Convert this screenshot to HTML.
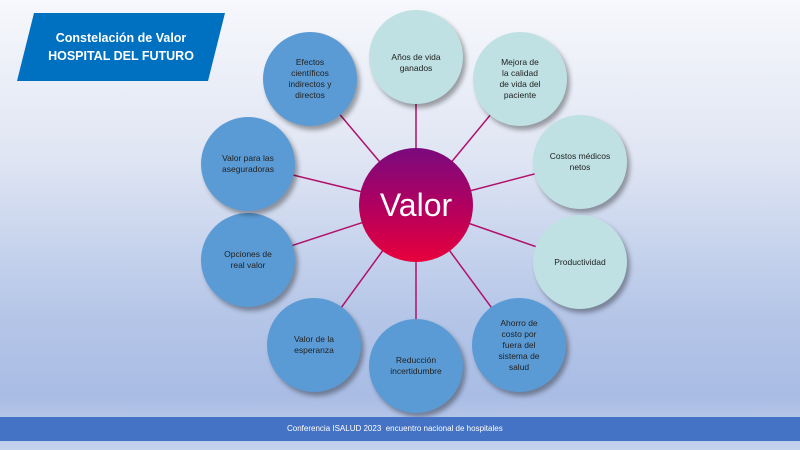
<!DOCTYPE html>
<html><head><meta charset="utf-8"><style>
body{margin:0;width:800px;height:450px;overflow:hidden;font-family:"Liberation Sans",sans-serif;
background:linear-gradient(#f7f8fc 0%,#dfe5f3 35%,#b5c6e8 70%,#a9bce4 88%,#c4d2ee 100%);position:relative}
.t{position:absolute;left:17px;top:13px;width:208px;height:68px;background:#0070c0;clip-path:polygon(17px 0,208px 0,191px 68px,0 68px);
color:#fff;font-weight:bold;font-size:12.5px;text-align:center;line-height:18px;padding-top:16px;box-sizing:border-box}
.c{position:absolute;width:94px;height:94px;border-radius:50%;display:flex;align-items:center;justify-content:center;text-align:center;
font-size:8.5px;line-height:11px;color:#222;box-shadow:3px 4px 5px rgba(0,0,0,.35);box-sizing:border-box;padding:0 12px}
.b{background:#5b9bd5}.g{background:#bfe1e3}
.v{position:absolute;left:359px;top:148px;width:114px;height:114px;border-radius:50%;background:linear-gradient(#7a0a7e,#b00060 50%,#e8003c);
color:#fff;font-size:32px;display:flex;align-items:center;justify-content:center}
.f{position:absolute;left:0;top:417px;width:800px;height:24px;background:#4472c4;color:#fff;font-size:8px;line-height:24px;padding-left:287px;box-sizing:border-box}
</style></head><body>
<svg width="800" height="450" style="position:absolute;left:0;top:0">
<g stroke="#b0106a" stroke-width="1.5">
<line x1="416" y1="205" x2="310" y2="79"/><line x1="416" y1="205" x2="416" y2="57"/><line x1="416" y1="205" x2="520" y2="79"/>
<line x1="416" y1="205" x2="580" y2="162"/><line x1="416" y1="205" x2="580" y2="262"/><line x1="416" y1="205" x2="519" y2="345"/>
<line x1="416" y1="205" x2="416" y2="366"/><line x1="416" y1="205" x2="314" y2="345"/><line x1="416" y1="205" x2="248" y2="260"/>
<line x1="416" y1="205" x2="248" y2="164"/></g></svg>
<div class="t">Constelación de Valor<br>HOSPITAL DEL FUTURO</div>
<div class="c b" style="left:263px;top:32px;padding:0 24px">Efectos científicos indirectos y directos</div>
<div class="c g" style="left:369px;top:10px;align-items:flex-start;padding-top:42px">Años de vida ganados</div>
<div class="c g" style="left:473px;top:32px;padding:0 24px">Mejora de la calidad de vida del paciente</div>
<div class="c g" style="left:533px;top:115px;padding:0 14px">Costos médicos netos</div>
<div class="c g" style="left:533px;top:215px">Productividad</div>
<div class="c b" style="left:472px;top:298px;padding:0 22px">Ahorro de costo por fuera del sistema de salud</div>
<div class="c b" style="left:369px;top:319px">Reducción incertidumbre</div>
<div class="c b" style="left:267px;top:298px;padding:0 20px">Valor de la esperanza</div>
<div class="c b" style="left:201px;top:213px;padding:0 20px">Opciones de real valor</div>
<div class="c b" style="left:201px;top:117px">Valor para las aseguradoras</div>
<div class="v">Valor</div>
<div class="f">Conferencia ISALUD 2023 &nbsp;encuentro nacional de hospitales</div>
</body></html>
